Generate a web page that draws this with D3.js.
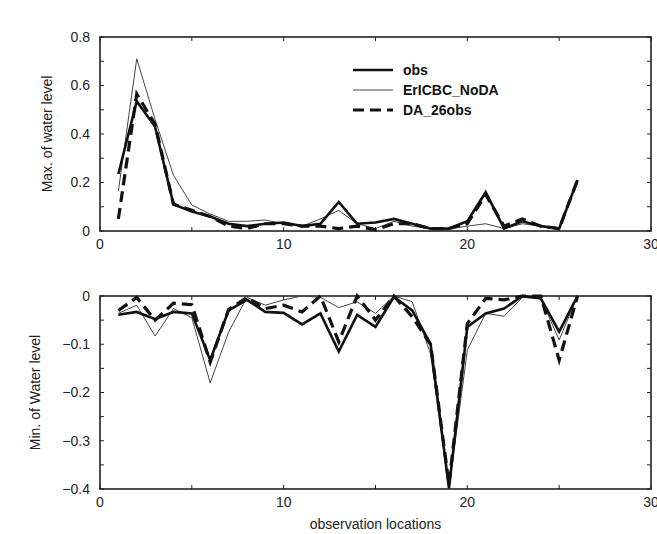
<!DOCTYPE html>
<html><head><meta charset="utf-8">
<script src="https://cdn.jsdelivr.net/npm/d3@7"></script>
<style>body{margin:0;background:#fff}svg{display:block}text{font-family:"Liberation Sans",Arial,sans-serif}</style>
</head><body>
<svg id="c" width="657" height="534"></svg>
<script>
const locations = d3.range(1, 27);
const maxObs  = [0.235,0.535,0.43,0.11,0.08,0.06,0.03,0.02,0.03,0.035,0.02,0.03,0.12,0.03,0.035,0.05,0.03,0.01,0.01,0.04,0.16,0.01,0.04,0.02,0.01,0.21];
const maxNoDA = [0.165,0.71,0.46,0.23,0.107,0.07,0.04,0.04,0.045,0.03,0.02,0.05,0.085,0.03,0.01,0.04,0.02,0.01,0.01,0.02,0.03,0.01,0.03,0.02,0.005,0.21];
const maxDA   = [0.05,0.565,0.44,0.11,0.085,0.06,0.02,0.01,0.03,0.03,0.02,0.02,0.01,0.02,0.005,0.03,0.03,0.01,0.01,0.03,0.15,0.02,0.05,0.02,0.01,0.21];
const minObs  = [-0.039,-0.033,-0.048,-0.033,-0.036,-0.133,-0.03,-0.008,-0.033,-0.035,-0.059,-0.036,-0.115,-0.039,-0.064,-0.002,-0.03,-0.1,-0.398,-0.064,-0.036,-0.026,0,-0.005,-0.074,0];
const minNoDA = [-0.036,-0.019,-0.083,-0.026,-0.045,-0.18,-0.075,-0.003,-0.019,-0.008,0,-0.003,-0.024,-0.012,-0.036,0,-0.012,-0.12,-0.4,-0.112,-0.036,-0.042,-0.003,-0.005,-0.091,0];
const minDA   = [-0.03,-0.003,-0.05,-0.015,-0.018,-0.137,-0.028,-0.003,-0.026,-0.019,-0.033,0,-0.095,0,-0.05,0,-0.043,-0.1,-0.39,-0.057,-0.005,-0.008,0,0,-0.133,0];
const seriesNames = ["obs","ErICBC_NoDA","DA_26obs"];
const xTicks = [0,10,20,30];
const maxTicks = [0,0.2,0.4,0.6,0.8];
const minTicks = [-0.4,-0.3,-0.2,-0.1,0];

const svg = d3.select("#c");
const L = 100, R = 651;
const x = d3.scaleLinear().domain([0,30]).range([L,R]);
const styles = [
  {w:2.6, dash:null, col:"#111"},
  {w:1, dash:null, col:"#444"},
  {w:3.2, dash:"11,6", col:"#111"}
];

function panel(top, bottom, domain, yTicks, yMinor, data, ylabel, ylabelX, tickFmt) {
  const y = d3.scaleLinear().domain(domain).range([bottom, top]);
  const g = svg.append("g");
  g.append("rect").attr("x",L).attr("y",top).attr("width",R-L).attr("height",bottom-top)
    .attr("fill","none").attr("stroke","#222").attr("stroke-width",1.6);
  const xt = d3.range(0,31,5);
  xt.forEach(v=>{
    g.append("line").attr("x1",x(v)).attr("x2",x(v)).attr("y1",bottom).attr("y2",bottom-4).attr("stroke","#222");
    g.append("line").attr("x1",x(v)).attr("x2",x(v)).attr("y1",top).attr("y2",top+4).attr("stroke","#222");
  });
  yMinor.forEach(v=>{
    g.append("line").attr("x1",L).attr("x2",L+4).attr("y1",y(v)).attr("y2",y(v)).attr("stroke","#222");
    g.append("line").attr("x1",R).attr("x2",R-4).attr("y1",y(v)).attr("y2",y(v)).attr("stroke","#222");
  });
  xTicks.forEach(v=>{
    g.append("text").attr("x",x(v)).attr("y",bottom+18).attr("text-anchor","middle")
      .attr("font-size",14).attr("fill","#222").text(v);
  });
  yTicks.forEach(v=>{
    g.append("text").attr("x",L-10).attr("y",y(v)).attr("dy","0.35em").attr("text-anchor","end")
      .attr("font-size",14).attr("fill","#222").text(tickFmt(v));
  });
  g.append("text").attr("transform",`translate(${ylabelX},${(top+bottom)/2}) rotate(-90)`)
    .attr("text-anchor","middle").attr("font-size",14).attr("fill","#222").text(ylabel);
  const line = d3.line().x((d,i)=>x(locations[i])).y(d=>y(d));
  [1,0,2].forEach(k=>{
    g.append("path").datum(data[k]).attr("d",line).attr("fill","none")
      .attr("stroke",styles[k].col).attr("stroke-width",styles[k].w)
      .attr("stroke-dasharray",styles[k].dash).attr("stroke-linejoin","miter");
  });
  return y;
}

panel(37, 231, [0,0.8], maxTicks, d3.range(0,0.81,0.1), [maxObs,maxNoDA,maxDA], "Max. of water level", 52, d=>d===0?"0":d3.format(".1f")(d));
panel(296, 489, [-0.4,0], minTicks, d3.range(-0.4,0.001,0.05), [minObs,minNoDA,minDA], "Min. of Water level", 40, d=>d===0?"0":d3.format(".1f")(d).replace("-","\u2212"));

svg.append("text").attr("x",(L+R)/2).attr("y",529).attr("text-anchor","middle")
  .attr("font-size",14).attr("fill","#222").text("observation locations");

const lg = svg.append("g");
seriesNames.forEach((n,i)=>{
  const yy = 70 + i*20;
  lg.append("line").attr("x1",353).attr("x2",393).attr("y1",yy).attr("y2",yy)
    .attr("stroke",styles[i].col).attr("stroke-width",styles[i].w).attr("stroke-dasharray",styles[i].dash);
  lg.append("text").attr("x",403).attr("y",yy).attr("dy","0.35em").attr("font-size",14)
    .attr("font-weight","bold").attr("fill","#111").text(n);
});
</script>
</body></html>
